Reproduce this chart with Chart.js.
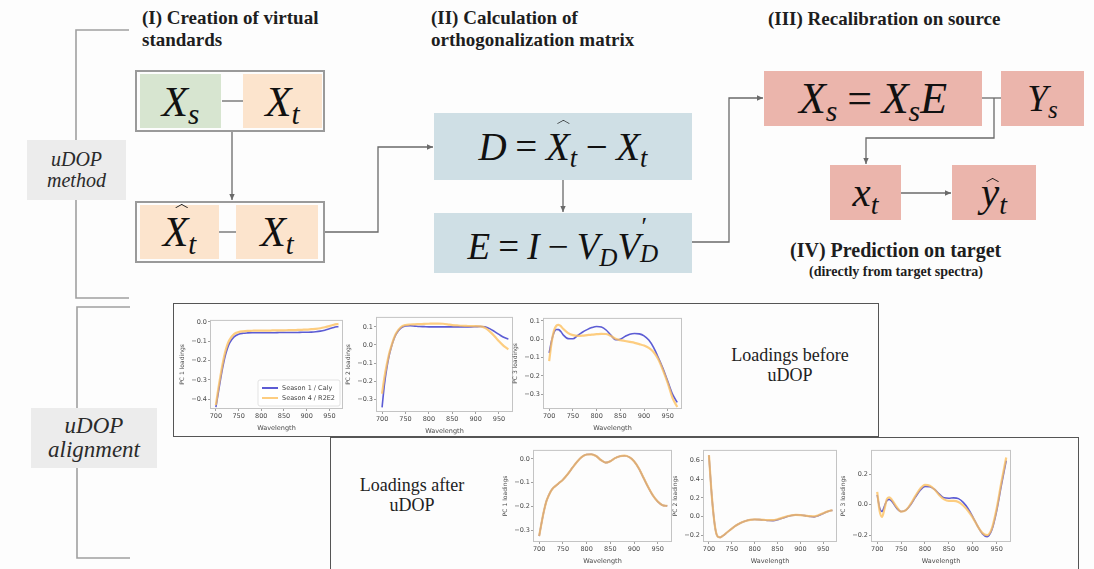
<!DOCTYPE html>
<html>
<head>
<meta charset="utf-8">
<script src="https://cdn.jsdelivr.net/npm/chart.js@4.4.1/dist/chart.umd.min.js"></script>
<style>
  html, body { margin: 0; padding: 0; }
  body { width: 1094px; height: 569px; overflow: hidden; background: #fdfdfd; position: relative; font-family: 'Liberation Serif', serif; color: #222; }
  .h { position: absolute; font-weight: bold; font-size: 19px; line-height: 22px; white-space: nowrap; color: #1e1e1e; }
  .box { position: absolute; display: flex; align-items: center; justify-content: center; }
  .frame { position: absolute; border: 2px solid #9a9a9a; box-sizing: border-box; }
  .green { background: #d7e5d0; }
  .peach { background: #fce4cd; }
  .steel { background: #cfdfe5; }
  .rose  { background: #ebb5ac; }
  .tag { position: absolute; background: #ececec; display: flex; flex-direction: column; align-items: center; justify-content: center; font-style: italic; color: #2a2a2a; line-height: 1.05; }
  .m { font-family: 'Liberation Serif', serif; font-style: italic; color: #111; white-space: nowrap; line-height: 1; display: inline-block; }
  .m sub { font-size: 0.68em; vertical-align: -0.28em; line-height: 0; }
  .op { font-style: normal; margin: 0 0.22em; }
  .hat { position: relative; display: inline-block; }
  /* circumflex accent drawn as a thin chevron */
  .hat .cf { position: absolute; width: 0.2em; height: 0.2em; border-left: 1.6px solid #111; border-top: 1.6px solid #111; transform: scaleY(0.55) rotate(45deg); left: 0.33em; top: -0.2em; }
  .hat .cfl { position: absolute; width: 0.2em; height: 0.2em; border-left: 1.6px solid #111; border-top: 1.6px solid #111; transform: scaleY(0.55) rotate(45deg); left: 0.17em; top: 0.12em; }
  .ss { position: relative; display: inline-block; width: 0.5em; height: 1em; }
  .ss .p { position: absolute; left: 0.06em; top: -0.3em; font-size: 0.7em; font-style: normal; line-height: 1; }
  .ss .d { position: absolute; left: 0; bottom: -0.3em; font-size: 0.68em; line-height: 1; }
  .note { position: absolute; font-size: 18px; line-height: 20px; text-align: center; color: #222; white-space: nowrap; }
  .panel { position: absolute; border: 1.5px solid #555; box-sizing: border-box; }
  .cw { position: absolute; }
</style>
</head>
<body>

<!-- connectors, brackets and arrows of the flow diagram -->
<svg width="1094" height="569" style="position:absolute;left:0;top:0">
  <defs>
    <marker id="ah" markerWidth="7" markerHeight="7" refX="6" refY="3.5" orient="auto" markerUnits="userSpaceOnUse">
      <path d="M0,0.8 L6,3.5 L0,6.2 z" fill="#6a6a6a"/>
    </marker>
  </defs>
  <g stroke="#a0a0a0" stroke-width="1.6" fill="none">
    <polyline points="129,30 76,30 76,298 129,298"/>
    <polyline points="130,307 77,307 77,558 130,558"/>
  </g>
  <g stroke="#6a6a6a" stroke-width="1.3" fill="none">
    <line x1="222" y1="101" x2="243" y2="101"/>
    <line x1="219" y1="232" x2="236" y2="232"/>
    <line x1="232" y1="132" x2="232" y2="200" marker-end="url(#ah)"/>
    <polyline points="325,232 378,232 378,147 433,147" marker-end="url(#ah)"/>
    <line x1="563" y1="180" x2="563" y2="212" marker-end="url(#ah)"/>
    <polyline points="692,242 729,242 729,98 763,98" marker-end="url(#ah)"/>
    <line x1="982" y1="98" x2="1001" y2="98"/>
    <polyline points="994,98 994,138 866,138 866,164" marker-end="url(#ah)"/>
    <line x1="901" y1="193" x2="951" y2="193" marker-end="url(#ah)"/>
  </g>
</svg>

<!-- section headings -->
<div class="h" style="left:142px;top:7px;">(I) Creation of virtual<br>standards</div>
<div class="h" style="left:431px;top:7px;">(II) Calculation of<br>orthogonalization matrix</div>
<div class="h" style="left:768px;top:8px;">(III) Recalibration on source</div>
<div class="h" style="left:790px;top:239px;font-size:20px;">(IV) Prediction on target</div>
<div class="h" style="left:809px;top:264px;font-size:14px;line-height:16px;">(directly from target spectra)</div>

<!-- side labels -->
<div class="tag" style="left:27px;top:140px;width:99px;height:60px;font-size:20px;"><span>uDOP</span><span>method</span></div>
<div class="tag" style="left:31px;top:408px;width:126px;height:60px;font-size:23px;"><span>uDOP</span><span>alignment</span></div>

<!-- (I) virtual standards -->
<div class="frame" style="left:135px;top:70px;width:190px;height:62px;"></div>
<div class="box green" style="left:140px;top:74px;width:81px;height:54px;"><span class="m" style="font-size:43px;">X<sub>s</sub></span></div>
<div class="box peach" style="left:243px;top:74px;width:79px;height:54px;"><span class="m" style="font-size:43px;">X<sub>t</sub></span></div>

<div class="frame" style="left:135px;top:201px;width:190px;height:62px;"></div>
<div class="box peach" style="left:140px;top:205px;width:79px;height:54px;"><span class="m" style="font-size:42px;"><span class="hat">X<span class="cf"></span></span><sub>t</sub></span></div>
<div class="box peach" style="left:236px;top:205px;width:82px;height:54px;"><span class="m" style="font-size:42px;">X<sub>t</sub></span></div>

<!-- (II) orthogonalization -->
<div class="box steel" style="left:434px;top:113px;width:258px;height:67px;"><span class="m" style="font-size:39px;">D<span class="op">=</span><span class="hat">X<span class="cf"></span></span><sub>t</sub><span class="op">−</span>X<sub>t</sub></span></div>
<div class="box steel" style="left:434px;top:213px;width:258px;height:60px;"><span class="m" style="font-size:37px;">E<span class="op">=</span>I<span class="op">−</span>V<sub>D</sub>V<span class="ss"><span class="p">′</span><span class="d">D</span></span></span></div>

<!-- (III) recalibration and (IV) prediction -->
<div class="box rose" style="left:764px;top:71px;width:218px;height:55px;"><span class="m" style="font-size:44px;">X<sub>s</sub><span class="op">=</span>X<sub>s</sub>E</span></div>
<div class="box rose" style="left:1001px;top:71px;width:83px;height:55px;"><span class="m" style="font-size:37px;">Y<sub>s</sub></span></div>
<div class="box rose" style="left:830px;top:165px;width:71px;height:55px;"><span class="m" style="font-size:41px;">x<sub>t</sub></span></div>
<div class="box rose" style="left:952px;top:165px;width:84px;height:55px;"><span class="m" style="font-size:41px;"><span class="hat">y<span class="cfl"></span></span><sub>t</sub></span></div>

<!-- loadings panels -->
<div class="panel" style="left:173px;top:303px;width:706px;height:134px;"></div>
<div class="panel" style="left:330px;top:437px;width:749px;height:150px;"></div>
<div class="note" style="left:725px;top:345px;width:130px;">Loadings before<br>uDOP</div>
<div class="note" style="left:347px;top:475px;width:130px;">Loadings after<br>uDOP</div>

<script>
// Wavelength grid (nm) shared by every loading curve
const wavelength = [700,705,710,715,720,725,730,740,750,760,770,780,790,800,810,820,830,840,850,860,870,880,890,900,910,920,930,940,950,960,970];
const wavelengthTicks = [700, 750, 800, 850, 900, 950];
const seriesNames = ['Season 1 / Caly', 'Season 4 / R2E2'];

// Loadings before uDOP
const pc1BeforeCaly = [-0.44,-0.37,-0.30,-0.235,-0.18,-0.14,-0.11,-0.078,-0.064,-0.059,-0.057,-0.056,-0.056,-0.056,-0.056,-0.056,-0.056,-0.055,-0.055,-0.055,-0.055,-0.055,-0.054,-0.054,-0.053,-0.051,-0.048,-0.043,-0.036,-0.029,-0.024];
const pc1BeforeR2E2 = [-0.43,-0.35,-0.28,-0.215,-0.16,-0.12,-0.093,-0.063,-0.053,-0.049,-0.047,-0.046,-0.045,-0.045,-0.045,-0.045,-0.044,-0.044,-0.044,-0.043,-0.043,-0.042,-0.041,-0.040,-0.038,-0.036,-0.033,-0.028,-0.022,-0.015,-0.010];
const pc2BeforeCaly = [-0.345,-0.22,-0.13,-0.06,-0.01,0.03,0.06,0.093,0.105,0.106,0.104,0.102,0.101,0.100,0.100,0.100,0.100,0.100,0.100,0.100,0.100,0.100,0.100,0.101,0.102,0.100,0.090,0.075,0.058,0.042,0.032];
const pc2BeforeR2E2 = [-0.27,-0.18,-0.11,-0.05,-0.005,0.035,0.065,0.098,0.110,0.113,0.114,0.115,0.116,0.117,0.118,0.118,0.117,0.114,0.110,0.108,0.106,0.105,0.104,0.104,0.103,0.095,0.075,0.050,0.020,-0.005,-0.024];
const pc3BeforeCaly = [-0.075,-0.01,0.035,0.053,0.052,0.040,0.022,0.003,0.002,0.020,0.038,0.052,0.063,0.069,0.066,0.050,0.022,-0.003,0.000,0.015,0.027,0.031,0.029,0.018,-0.005,-0.045,-0.10,-0.16,-0.23,-0.30,-0.345];
const pc3BeforeR2E2 = [-0.12,-0.02,0.045,0.073,0.078,0.070,0.055,0.033,0.022,0.018,0.019,0.022,0.025,0.027,0.029,0.028,0.018,0.002,-0.005,-0.010,-0.015,-0.020,-0.027,-0.035,-0.048,-0.070,-0.11,-0.17,-0.24,-0.32,-0.37];

// Loadings after uDOP
const pc1AfterCaly = [-0.325,-0.27,-0.22,-0.18,-0.155,-0.135,-0.122,-0.105,-0.088,-0.065,-0.038,-0.012,0.008,0.018,0.019,0.012,-0.005,-0.016,-0.010,0.003,0.011,0.013,0.007,-0.010,-0.040,-0.080,-0.120,-0.155,-0.180,-0.195,-0.198];
const pc1AfterR2E2 = [-0.325,-0.27,-0.22,-0.18,-0.155,-0.135,-0.122,-0.105,-0.088,-0.065,-0.038,-0.012,0.008,0.018,0.019,0.012,-0.005,-0.016,-0.010,0.003,0.011,0.013,0.007,-0.010,-0.040,-0.080,-0.120,-0.155,-0.180,-0.195,-0.198];
const pc2AfterCaly = [0.66,0.30,0.02,-0.16,-0.22,-0.225,-0.21,-0.17,-0.13,-0.095,-0.068,-0.048,-0.036,-0.032,-0.034,-0.038,-0.044,-0.045,-0.036,-0.018,-0.002,0.011,0.017,0.015,0.009,0.001,-0.004,0.010,0.033,0.054,0.068];
const pc2AfterR2E2 = [0.66,0.30,0.02,-0.16,-0.22,-0.225,-0.21,-0.17,-0.13,-0.095,-0.068,-0.048,-0.036,-0.032,-0.033,-0.036,-0.040,-0.040,-0.030,-0.015,0.000,0.012,0.017,0.015,0.010,0.003,0.002,0.015,0.035,0.055,0.068];
const pc3AfterCaly = [0.065,-0.02,-0.045,-0.01,0.025,0.035,0.025,-0.02,-0.045,-0.035,0.0,0.05,0.095,0.12,0.118,0.10,0.07,0.045,0.042,0.045,0.04,0.015,-0.025,-0.08,-0.14,-0.19,-0.21,-0.165,-0.04,0.13,0.29];
const pc3AfterR2E2 = [0.085,-0.04,-0.08,-0.03,0.035,0.048,0.035,-0.012,-0.045,-0.035,0.005,0.058,0.105,0.13,0.125,0.10,0.062,0.035,0.025,0.025,0.018,-0.005,-0.04,-0.085,-0.14,-0.185,-0.20,-0.155,-0.025,0.15,0.31];

// Y tick values of each panel
const pc1BeforeTicks = [0.0, -0.1, -0.2, -0.3, -0.4];
const pc2BeforeTicks = [0.1, 0.0, -0.1, -0.2, -0.3];
const pc3BeforeTicks = [0.1, 0.0, -0.1, -0.2, -0.3];
const pc1AfterTicks  = [0.0, -0.1, -0.2, -0.3];
const pc2AfterTicks  = [0.6, 0.4, 0.2, 0.0, -0.2];
const pc3AfterTicks  = [0.2, 0.0, -0.2];

const BLUE = 'rgba(64,64,205,0.85)';
const ORANGE = 'rgba(252,192,96,0.8)';
const TICK_FONT = { family: 'DejaVu Sans', size: 6.5 };
const TICK_COLOR = '#4a4a4a';
const Y_W = 31, X_H = 23, PAD = 4;

// light box around the plotting area, like matplotlib spines
const spineBox = {
  id: 'spineBox',
  afterDraw(chart) {
    const a = chart.chartArea, c = chart.ctx;
    c.save();
    c.strokeStyle = '#c4c4c4';
    c.lineWidth = 1;
    c.strokeRect(a.left + 0.5, a.top + 0.5, a.right - a.left - 1, a.bottom - a.top - 1);
    c.restore();
  }
};

// small legend placed in the lower right corner of the plot area
const insetLegend = {
  id: 'insetLegend',
  afterDatasetsDraw(chart, args, opts) {
    if (!opts.show) return;
    const a = chart.chartArea, c = chart.ctx;
    const w = 82, rowH = 10, h = rowH * 2 + 6;
    const x0 = a.right - w - 3, y0 = a.bottom - h - 3;
    c.save();
    c.fillStyle = 'rgba(255,255,255,0.85)';
    c.strokeStyle = '#dcdcdc';
    c.lineWidth = 0.8;
    c.beginPath();
    c.roundRect(x0, y0, w, h, 2);
    c.fill(); c.stroke();
    c.font = '6.5px "DejaVu Sans"';
    c.textBaseline = 'middle';
    chart.data.datasets.forEach((ds, i) => {
      const y = y0 + 3 + rowH * i + rowH / 2;
      c.strokeStyle = ds.borderColor;
      c.lineWidth = 2;
      c.beginPath(); c.moveTo(x0 + 4, y); c.lineTo(x0 + 20, y); c.stroke();
      c.fillStyle = '#444';
      c.fillText(ds.label, x0 + 24, y);
    });
    c.restore();
  }
};

function fmt(v) {
  const s = Math.abs(v) < 1e-9 ? '0.0' : v.toFixed(1);
  return s.replace('-', '\u2212');
}

function drawPanel(frame, caly, r2e2, yTicks, yMin, yMax, yTitle, legend) {
  const wrap = document.createElement('div');
  wrap.className = 'cw';
  wrap.style.left = (frame.L - Y_W) + 'px';
  wrap.style.top = (frame.T - PAD) + 'px';
  wrap.style.width = (frame.R - frame.L + Y_W + PAD) + 'px';
  wrap.style.height = (frame.B - frame.T + PAD + X_H) + 'px';
  const cv = document.createElement('canvas');
  wrap.appendChild(cv);
  document.body.appendChild(wrap);

  new Chart(cv, {
    type: 'line',
    data: {
      datasets: [
        // Season 1 is drawn underneath Season 4
        { label: seriesNames[0], data: wavelength.map((w, i) => ({ x: w, y: caly[i] })), borderColor: BLUE, borderWidth: 1.6, order: 1 },
        { label: seriesNames[1], data: wavelength.map((w, i) => ({ x: w, y: r2e2[i] })), borderColor: ORANGE, borderWidth: 2.2, order: 0 }
      ]
    },
    options: {
      responsive: true,
      maintainAspectRatio: false,
      animation: false,
      events: [],
      elements: { point: { radius: 0 }, line: { cubicInterpolationMode: 'monotone', fill: false } },
      layout: { padding: { top: PAD, right: PAD, left: 0, bottom: 0 } },
      plugins: { legend: { display: false }, tooltip: { enabled: false }, insetLegend: { show: legend } },
      scales: {
        x: {
          type: 'linear', min: 687, max: 980,
          afterBuildTicks: s => { s.ticks = wavelengthTicks.map(v => ({ value: v })); },
          afterFit: s => { s.height = X_H; },
          ticks: { font: TICK_FONT, color: TICK_COLOR, padding: 1, maxRotation: 0, autoSkip: false, callback: v => String(v) },
          grid: { drawOnChartArea: false, drawTicks: true, tickLength: 2, color: '#777', lineWidth: 0.7 },
          border: { display: false },
          title: { display: true, text: 'Wavelength', font: TICK_FONT, color: TICK_COLOR, padding: { top: 0, bottom: 0 } }
        },
        y: {
          type: 'linear', min: yMin, max: yMax,
          afterBuildTicks: s => { s.ticks = yTicks.map(v => ({ value: v })); },
          afterFit: s => { s.width = Y_W; },
          ticks: { font: TICK_FONT, color: TICK_COLOR, padding: 1, autoSkip: false, callback: v => fmt(v) },
          grid: { drawOnChartArea: false, drawTicks: true, tickLength: 2, color: '#777', lineWidth: 0.7 },
          border: { display: false },
          title: { display: true, text: yTitle, font: { family: 'DejaVu Sans', size: 6 }, color: TICK_COLOR, padding: { top: 0, bottom: 0 } }
        }
      }
    },
    plugins: [spineBox, insetLegend]
  });
}

drawPanel({ L: 210, T: 319, R: 343, B: 409 }, pc1BeforeCaly, pc1BeforeR2E2, pc1BeforeTicks, -0.45, 0.01, 'PC 1 loadings', true);
drawPanel({ L: 376, T: 316, R: 513, B: 412 }, pc2BeforeCaly, pc2BeforeR2E2, pc2BeforeTicks, -0.371, 0.155, 'PC 2 loadings', false);
drawPanel({ L: 543, T: 317, R: 682, B: 409 }, pc3BeforeCaly, pc3BeforeR2E2, pc3BeforeTicks, -0.381, 0.116, 'PC 3 loadings', false);
drawPanel({ L: 533, T: 449, R: 672, B: 542 }, pc1AfterCaly, pc1AfterR2E2, pc1AfterTicks, -0.35, 0.0375, 'PC 1 loadings', false);
drawPanel({ L: 703, T: 449, R: 837, B: 542 }, pc2AfterCaly, pc2AfterR2E2, pc2AfterTicks, -0.275, 0.717, 'PC 2 loadings', false);
drawPanel({ L: 871, T: 449, R: 1011, B: 542 }, pc3AfterCaly, pc3AfterR2E2, pc3AfterTicks, -0.245, 0.36, 'PC 3 loadings', false);
</script>
</body>
</html>
